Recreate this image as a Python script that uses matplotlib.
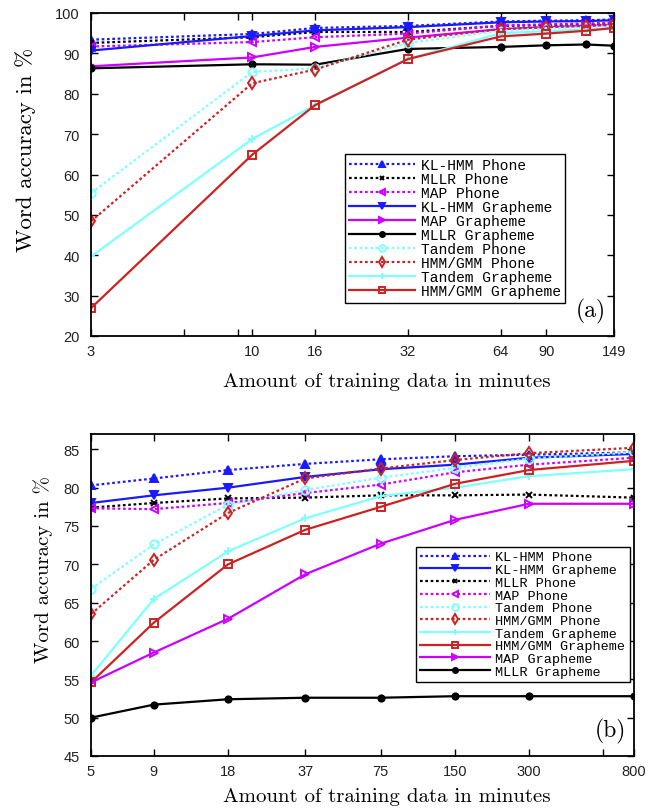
import matplotlib
matplotlib.use("Agg")
import matplotlib.pyplot as plt
from matplotlib.ticker import FixedLocator, NullFormatter

# ---------------- data: panel (a) ----------------
x_a = [3, 10, 16, 32, 64, 90, 121, 149]
xticks_a = [3, 10, 16, 32, 64, 90, 149]
a_kl_phone = [93.4, 94.8, 96.3, 96.8, 97.9, 98.1, 98.2, 98.4]
a_mllr_phone = [92.6, 94.0, 95.3, 95.3, 96.8, 97.0, 97.2, 97.4]
a_map_phone = [91.7, 92.8, 94.0, 94.9, 96.9, 97.2, 97.4, 97.6]
a_kl_graph = [90.7, 94.3, 95.7, 96.5, 97.7, 97.9, 98.0, 98.2]
a_map_graph = [86.8, 89.0, 91.6, 93.9, 96.0, 96.5, 96.8, 97.0]
a_mllr_graph = [86.3, 87.3, 87.2, 91.1, 91.6, 92.0, 92.2, 91.9]
a_tandem_phone = [55.4, 85.4, 86.3, 92.6, 95.6, 96.2, 96.5, 96.8]
a_hmm_phone = [48.4, 82.6, 86.0, 93.4, 96.0, 96.5, 96.9, 97.2]
a_tandem_graph = [39.7, 68.8, 77.2, 88.6, 95.0, 95.5, 95.9, 96.2]
a_hmm_graph = [26.9, 64.9, 77.2, 88.6, 94.2, 94.9, 95.6, 96.3]

# ---------------- data: panel (b) ----------------
x_b = [5, 9, 18, 37, 75, 150, 300, 800]
xticks_b = [5, 9, 18, 37, 75, 150, 300, 800]
b_kl_phone = [80.3, 81.2, 82.3, 83.1, 83.7, 84.1, 84.3, 84.6]
b_kl_graph = [78.0, 79.0, 80.0, 81.4, 82.4, 83.0, 83.9, 84.4]
b_mllr_phone = [77.4, 78.0, 78.6, 78.7, 79.0, 79.0, 79.1, 78.7]
b_map_phone = [77.3, 77.2, 78.0, 79.3, 80.4, 82.0, 83.0, 83.9]
b_tandem_phone = [66.8, 72.6, 77.8, 79.7, 81.3, 82.6, 83.8, 84.6]
b_hmm_phone = [63.5, 70.6, 76.7, 81.2, 82.5, 83.6, 84.5, 85.2]
b_tandem_graph = [55.5, 65.5, 71.7, 76.0, 78.9, 80.0, 81.5, 82.4]
b_hmm_graph = [54.6, 62.4, 70.0, 74.5, 77.5, 80.5, 82.3, 83.5]
b_map_graph = [54.6, 58.5, 62.9, 68.7, 72.7, 75.8, 77.9, 77.9]
b_mllr_graph = [50.0, 51.7, 52.4, 52.6, 52.6, 52.8, 52.8, 52.8]

BLUE = "#1a1aff"
BLACK = "#000000"
MAG = "#cc00ff"
CYAN = "#80ffff"
RED = "#cc2222"
DOT = (0, (1.2, 1.2))

styles = {
    "KL-HMM Phone": dict(color=BLUE, ls=DOT, marker="^", mfc=BLUE),
    "MLLR Phone": dict(color=BLACK, ls=DOT, marker="x", mfc=BLACK, ms=4),
    "MAP Phone": dict(color=MAG, ls=DOT, marker="<", mfc="none"),
    "KL-HMM Grapheme": dict(color=BLUE, ls="-", marker="v", mfc=BLUE),
    "MAP Grapheme": dict(color=MAG, ls="-", marker=">", mfc="none"),
    "MLLR Grapheme": dict(color=BLACK, ls="-", marker=".", mfc=BLACK, ms=9),
    "Tandem Phone": dict(color=CYAN, ls=DOT, marker="o", mfc="none"),
    "HMM/GMM Phone": dict(color=RED, ls=DOT, marker="d", mfc="none"),
    "Tandem Grapheme": dict(color=CYAN, ls="-", marker="+", mfc=CYAN),
    "HMM/GMM Grapheme": dict(color=RED, ls="-", marker="s", mfc="none"),
}

plt.rcParams["font.family"] = ["cmr10", "DejaVu Serif"]
plt.rcParams["mathtext.fontset"] = "cm"
plt.rcParams["axes.formatter.use_mathtext"] = True

W, H = 664, 812
fig = plt.figure(figsize=(W / 100, H / 100), dpi=100)

TICKFONT = {"family": "Liberation Sans", "size": 10.5}


def axes_px(l, t, r, b):
    return fig.add_axes([l / W, 1 - b / H, (r - l) / W, (b - t) / H])


def draw(ax, xs, series, order):
    for name in order:
        st = dict(styles[name])
        ms = st.pop("ms", 6)
        ax.plot(xs, series[name], color=st["color"], ls=st["ls"], lw=1.6,
                marker=st["marker"], mfc=st["mfc"], mec=st["color"], mew=1.4,
                ms=ms, label=name)


def style_axes(ax, xticks, minor, yticks):
    ax.set_xscale("log")
    ax.xaxis.set_major_locator(FixedLocator(xticks))
    ax.xaxis.set_minor_locator(FixedLocator(minor))
    ax.xaxis.set_minor_formatter(NullFormatter())
    ax.set_xticklabels([str(v) for v in xticks], fontdict=TICKFONT, color="#222222")
    ax.set_yticks(yticks)
    ax.set_yticklabels([str(v) for v in yticks], fontdict=TICKFONT, color="#222222")
    ax.tick_params(which="both", direction="in", top=True, right=True, width=1,
                   length=5)
    ax.tick_params(axis="x", pad=6)
    ax.tick_params(axis="y", pad=8)
    for s in ax.spines.values():
        s.set_linewidth(1.3)


def legend(ax, anchor_px, axes_box, fs, ls, hl, bp):
    l, t, r, b = axes_box
    bx = (anchor_px[0] - l) / (r - l)
    by = 1 - (anchor_px[1] - t) / (b - t)
    leg = ax.legend(loc="upper left", bbox_to_anchor=(bx, by),
                    prop={"family": "Liberation Mono", "size": fs},
                    frameon=True, fancybox=False, edgecolor="black",
                    handlelength=hl, labelspacing=ls, borderpad=bp,
                    handletextpad=0.4, borderaxespad=0, markerscale=0.8)
    leg.get_frame().set_linewidth(1.0)
    leg.get_frame().set_alpha(None)
    return leg


# ---- panel (a)
box_a = (91, 14, 614, 337)
ax1 = axes_px(*box_a)
series_a = {
    "KL-HMM Phone": a_kl_phone, "MLLR Phone": a_mllr_phone,
    "MAP Phone": a_map_phone, "KL-HMM Grapheme": a_kl_graph,
    "MAP Grapheme": a_map_graph, "MLLR Grapheme": a_mllr_graph,
    "Tandem Phone": a_tandem_phone, "HMM/GMM Phone": a_hmm_phone,
    "Tandem Grapheme": a_tandem_graph, "HMM/GMM Grapheme": a_hmm_graph,
}
order_a = ["KL-HMM Phone", "MLLR Phone", "MAP Phone", "KL-HMM Grapheme",
           "MAP Grapheme", "MLLR Grapheme", "Tandem Phone", "HMM/GMM Phone",
           "Tandem Grapheme", "HMM/GMM Grapheme"]
draw(ax1, x_a, series_a, order_a)
ax1.set_xlim(3, 149)
ax1.set_ylim(20, 100)
style_axes(ax1, xticks_a, [6, 9], list(range(20, 101, 10)))
legend(ax1, (345, 155), box_a, 10.5, 0.0, 4.5, 0.3)
ax1.text(0.985, 0.04, "(a)", transform=ax1.transAxes, ha="right", va="bottom",
         fontsize=17)
fig.text(387 / W, 1 - 382 / H, "Amount of training data in minutes",
         ha="center", va="center", fontsize=15)
fig.text(26 / W, 1 - 150 / H, "Word accuracy in %", ha="center", va="center",
         rotation=90, fontsize=16.5)

# ---- panel (b)
box_b = (91, 435, 634, 757)
ax2 = axes_px(*box_b)
series_b = {
    "KL-HMM Phone": b_kl_phone, "KL-HMM Grapheme": b_kl_graph,
    "MLLR Phone": b_mllr_phone, "MAP Phone": b_map_phone,
    "Tandem Phone": b_tandem_phone, "HMM/GMM Phone": b_hmm_phone,
    "Tandem Grapheme": b_tandem_graph, "HMM/GMM Grapheme": b_hmm_graph,
    "MAP Grapheme": b_map_graph, "MLLR Grapheme": b_mllr_graph,
}
order_b = ["KL-HMM Phone", "KL-HMM Grapheme", "MLLR Phone", "MAP Phone",
           "Tandem Phone", "HMM/GMM Phone", "Tandem Grapheme",
           "HMM/GMM Grapheme", "MAP Grapheme", "MLLR Grapheme"]
draw(ax2, x_b, series_b, order_b)
ax2.set_xlim(5, 800)
ax2.set_ylim(45, 87)
style_axes(ax2, xticks_b, [600], list(range(45, 86, 5)))
legend(ax2, (416, 548), box_b, 9.7, 0.02, 5.2, 0.3)
ax2.text(0.985, 0.04, "(b)", transform=ax2.transAxes, ha="right", va="bottom",
         fontsize=17)
fig.text(387 / W, 1 - 797 / H, "Amount of training data in minutes",
         ha="center", va="center", fontsize=15)
fig.text(43 / W, 1 - 570 / H, "Word accuracy in %", ha="center", va="center",
         rotation=90, fontsize=15)

fig.savefig("out.png", dpi=100)
